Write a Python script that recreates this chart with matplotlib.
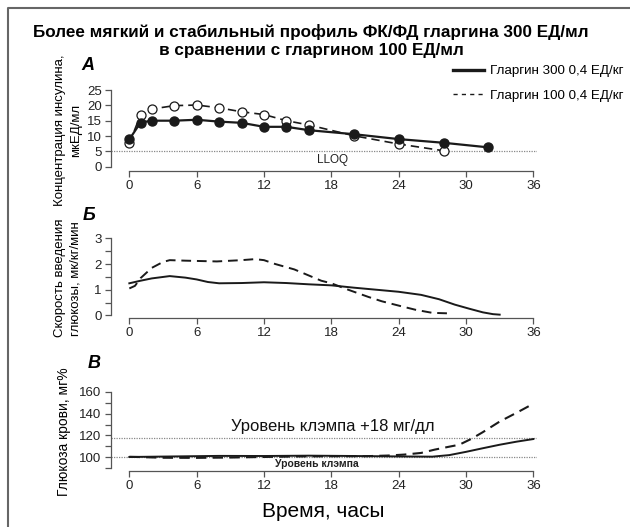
import matplotlib
matplotlib.use("Agg")
import matplotlib.pyplot as plt
from matplotlib.lines import Line2D

plt.rcParams['font.family'] = ['Liberation Sans', 'DejaVu Sans']

# --- data ---
# panel A: insulin concentration, mkU/ml
time_a300 = [0, 1, 2, 4, 6, 8, 10, 12, 14, 16, 20, 24, 28, 32]
conc_300 = [8.9, 14.4, 15.0, 15.0, 15.3, 14.7, 14.3, 13.0, 13.0, 11.9, 10.6, 9.0, 7.8, 6.3]
time_a100 = [0, 1, 2, 4, 6, 8, 10, 12, 14, 16, 20, 24, 28]
conc_100 = [7.6, 16.9, 18.8, 19.9, 20.1, 19.2, 17.9, 17.0, 15.0, 13.6, 10.1, 7.4, 5.2]
lloq = 5.2

# panel B: glucose infusion rate, mg/kg/min
time_b300 = [0, 1, 2, 3.6, 5, 6, 7, 8, 10, 12, 14, 16, 18, 20, 22, 24, 26, 27.6, 29, 30.3, 31.5, 32.4, 33]
gir_300 = [1.25, 1.35, 1.44, 1.53, 1.47, 1.40, 1.30, 1.25, 1.26, 1.29, 1.26, 1.21, 1.17, 1.08, 1.0, 0.92,
           0.80, 0.63, 0.42, 0.26, 0.12, 0.05, 0.03]
time_b100 = [0, 0.5, 1, 2, 3, 3.6, 5, 7.8, 10, 11.2, 12, 13, 14.7, 17.1, 18, 19.5, 21.3, 22.5, 24.2, 25.5, 27, 28.5]
gir_100 = [1.05, 1.15, 1.45, 1.85, 2.08, 2.15, 2.13, 2.10, 2.15, 2.19, 2.15, 2.0, 1.79, 1.35, 1.25, 1.0,
           0.72, 0.55, 0.36, 0.22, 0.10, 0.08]

# panel C: blood glucose, mg%
time_c300 = [0, 4, 8, 12, 16, 20, 24, 27, 28.5, 30, 31.5, 33, 34.5, 36]
gluc_300 = [100.3, 100.8, 101.3, 101.2, 101.5, 101.2, 100.8, 100.6, 102, 105, 108.3, 111.5, 114.3, 116.7]
time_c100 = [0, 3, 6, 9, 12, 15, 18, 21, 23, 24.5, 26, 27.2, 28.4, 29.4, 30.5, 31.5, 33, 34.5, 36]
gluc_100 = [100.5, 99.6, 99.5, 99.8, 100.3, 100.8, 101, 101, 101.6, 102.5, 104, 107, 109.5, 111.5, 117,
            123, 132.7, 140.7, 149]
clamp = 100
clamp_plus = 118

x_ticks = [0, 6, 12, 18, 24, 30, 36]
label_300 = "Гларгин 300 0,4 ЕД/кг"
label_100 = "Гларгин 100 0,4 ЕД/кг"

W, H = 630, 527
fig = plt.figure(figsize=(W / 100, H / 100), dpi=100)

spine_col = "#555555"
line_col = "#1a1a1a"


def make_axes(top_px, bottom_px):
    left = 110.7
    right = 536.7
    return fig.add_axes([left / W, 1 - bottom_px / H, (right - left) / W, (bottom_px - top_px) / H])


def style(ax, ybounds, yticks, ylabels, minor=None):
    ax.set_xlim(-1.66, 36.3)
    for s in ["top", "right"]:
        ax.spines[s].set_visible(False)
    for s in ["left", "bottom"]:
        ax.spines[s].set_color(spine_col)
        ax.spines[s].set_linewidth(0.9)
    ax.spines["bottom"].set_bounds(0, 36)
    ax.spines["left"].set_bounds(*ybounds)
    ax.set_xticks(x_ticks)
    ax.set_yticks(yticks)
    ax.set_yticklabels(ylabels)
    if minor is not None:
        ax.set_yticks(minor, minor=True)
    ax.tick_params(axis="both", which="both", direction="out", length=4.5, width=0.9,
                   color=spine_col, labelsize=9.5, pad=2, labelcolor="#222222")
    ax.patch.set_visible(False)


# panel A
ax_a = make_axes(90, 170.7)
ax_a.set_ylim(-1.3, 25)
ax_a.axhline(lloq, xmin=0, xmax=1, color="#888888", lw=0.9, ls=(0, (1, 1)))
l100, = ax_a.plot(time_a100, conc_100, color=line_col, lw=1.2, ls=(0, (5, 3)),
                  marker="o", ms=6.5, mfc="white", mec=line_col, mew=0.9, clip_on=False, zorder=3)
l300, = ax_a.plot(time_a300, conc_300, color=line_col, lw=1.6,
                  marker="o", ms=6.5, mfc=line_col, mec=line_col, clip_on=False, zorder=4)
ax_a.text(18.1, 2.2, "LLOQ", ha="center", va="center", fontsize=8.5, color="#222222")
style(ax_a, (0, 25), [0, 5, 10, 15, 20, 25], ["0", "5", "10", "15", "20", "25"])
ax_a.yaxis.set_label_coords(-0.068, 0.59)
ax_a.set_ylabel("Концентрация инсулина,\nмкЕД/мл", fontsize=9.5, linespacing=1.45)

# panel B
ax_b = make_axes(238.3, 318)
ax_b.set_ylim(-0.1, 3)
ax_b.plot(time_b100, gir_100, color=line_col, lw=1.4, ls=(0, (5, 3)))
ax_b.plot(time_b300, gir_300, color=line_col, lw=1.4)
style(ax_b, (0, 3), [0, 1, 2, 3], ["0", "1", "2", "3"], minor=[0.5, 1.5, 2.5])
ax_b.yaxis.set_label_coords(-0.068, 0.5)
ax_b.set_ylabel("Скорость введения\nглюкозы, мк/кг/мин", fontsize=9.5, linespacing=1.45)

# panel C
ax_c = make_axes(391.7, 471.2)
ax_c.set_ylim(87.3, 160)
ax_c.axhline(clamp_plus, color="#888888", lw=0.9, ls=(0, (1, 1)))
ax_c.axhline(clamp, color="#888888", lw=0.9, ls=(0, (1, 1)))
ax_c.plot(time_c100, gluc_100, color=line_col, lw=1.5, ls=(0, (5, 3)))
ax_c.plot(time_c300, gluc_300, color=line_col, lw=1.4)
ax_c.text(18.1, 127.9, "Уровень клэмпа +18 мг/дл", ha="center", va="center", fontsize=12,
          color="#111111")
ax_c.text(16.7, 94, "Уровень клэмпа", ha="center", va="center", fontsize=7.5, fontweight="bold",
          color="#222222")
style(ax_c, (90, 160), [100, 120, 140, 160], ["100", "120", "140", "160"], minor=[90, 110, 130, 150])
ax_c.yaxis.set_label_coords(-0.094, 0.6)
ax_c.set_ylabel("Глюкоза крови, мг%", fontsize=10)
ax_c.set_xlabel("Время, часы", fontsize=15, labelpad=7)

# panel letters
for letter, xp, yp in [("А", 88, 66), ("Б", 89, 215), ("В", 94, 363)]:
    fig.text(xp / W, 1 - yp / H, letter, ha="center", va="center", fontsize=13,
             fontweight="bold", fontstyle="italic")

# title
fig.text(311 / W, 1 - 41 / H, "Более мягкий и стабильный профиль ФК/ФД гларгина 300 ЕД/мл\n"
         "в сравнении с гларгином 100 ЕД/мл", ha="center", va="center", fontsize=12.3,
         fontweight="bold", linespacing=1.2)

# legend
leg_300 = Line2D([], [], color=line_col, lw=2.4)
leg_100 = Line2D([], [], color=line_col, lw=1.0, ls=(0, (3, 3)))
fig.legend([leg_300, leg_100], [label_300, label_100], loc="upper left",
           bbox_to_anchor=(453 / W, 1 - 65 / H), frameon=False, fontsize=9.6,
           handlelength=2.3, handletextpad=0.45, labelspacing=0.9, borderpad=0, borderaxespad=0)

# frame
fig.add_artist(Line2D([7.5 / W, 7.5 / W, 1], [0, 1 - 8 / H, 1 - 8 / H], transform=fig.transFigure,
                      color="#666666", lw=1.5))

fig.savefig("out.png", dpi=100)
